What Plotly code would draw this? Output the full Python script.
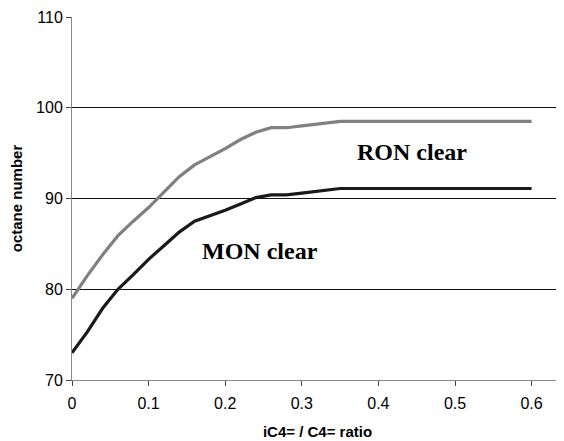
import plotly.graph_objects as go

ratio = [0, 0.02, 0.04, 0.06, 0.08, 0.10, 0.12, 0.14, 0.16, 0.18, 0.20, 0.22, 0.24, 0.26, 0.28, 0.30, 0.35, 0.60]
ron = [79.0, 81.5, 83.8, 85.9, 87.5, 89.0, 90.7, 92.4, 93.7, 94.6, 95.5, 96.5, 97.3, 97.8, 97.8, 98.0, 98.5, 98.5]
mon = [73.0, 75.3, 77.9, 80.0, 81.6, 83.3, 84.8, 86.3, 87.5, 88.1, 88.7, 89.4, 90.1, 90.4, 90.4, 90.6, 91.1, 91.1]
x_ticks = [0, 0.1, 0.2, 0.3, 0.4, 0.5, 0.6]
y_ticks = [70, 80, 90, 100, 110]

fig = go.Figure()
fig.add_trace(go.Scatter(x=ratio, y=ron, mode="lines", line=dict(color="#808080", width=3.2), name="RON clear"))
fig.add_trace(go.Scatter(x=ratio, y=mon, mode="lines", line=dict(color="#1a1a1a", width=3.2), name="MON clear"))

fig.add_annotation(x=0.444, y=95.1, text="<b>RON clear</b>", showarrow=False,
                   font=dict(family="Liberation Serif", size=24, color="black"))
fig.add_annotation(x=0.245, y=84.2, text="<b>MON clear</b>", showarrow=False,
                   font=dict(family="Liberation Serif", size=24, color="black"))

fig.update_layout(
    width=556, height=433,
    margin=dict(l=64, r=1, t=9, b=61, autoexpand=False),
    paper_bgcolor="white", plot_bgcolor="white",
    showlegend=False,
    font=dict(family="Liberation Sans", size=16, color="black"),
)
fig.update_xaxes(
    range=[0, 0.641], tickvals=x_ticks, ticktext=[str(v) for v in x_ticks],
    showgrid=False, zeroline=False, showline=True, linecolor="#888888", linewidth=1,
    ticks="outside", ticklen=5, tickcolor="#444444", ticklabelstandoff=4,
    title=dict(text="<b>iC4= / C4= ratio</b>", font=dict(size=15), standoff=15),
)
fig.update_yaxes(
    range=[70, 110], tickvals=y_ticks,
    showgrid=True, gridcolor="#111111", gridwidth=1, zeroline=False,
    showline=True, linecolor="#888888", linewidth=1,
    ticks="outside", ticklen=5, tickcolor="#444444",
    title=dict(text="<b>octane number</b>", font=dict(size=15), standoff=14),
)

fig.write_html("out.html")
